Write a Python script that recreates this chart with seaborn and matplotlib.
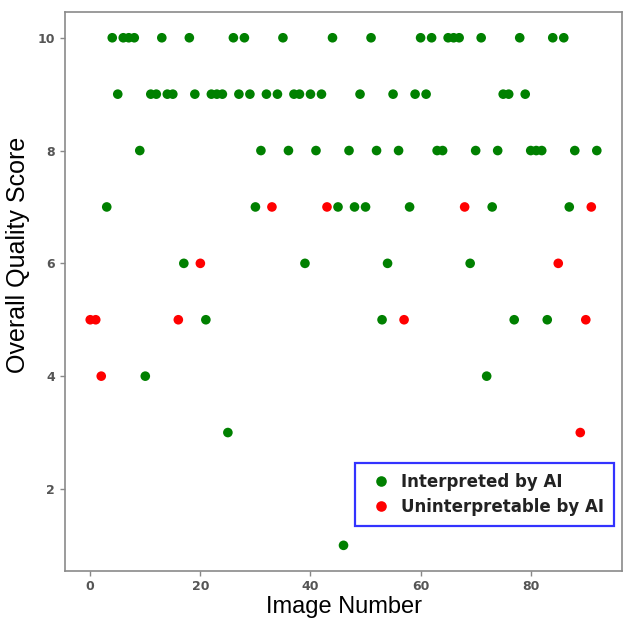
import numpy as np
import pandas as pd
import matplotlib
matplotlib.use('Agg')
import matplotlib.pyplot as plt
import seaborn as sns

# overall quality score for each image, in image order 0..92
scores = [5, 5, 4, 7, 10, 9, 10, 10, 10, 8,
          4, 9, 9, 10, 9, 9, 5, 6, 10, 9,
          6, 5, 9, 9, 9, 3, 10, 9, 10, 9,
          7, 8, 9, 7, 9, 10, 8, 9, 9, 6,
          9, 8, 9, 7, 10, 7, 1, 8, 7, 9,
          7, 10, 8, 5, 6, 9, 8, 5, 7, 9,
          10, 9, 10, 8, 8, 10, 10, 10, 7, 6,
          8, 10, 4, 7, 8, 9, 9, 5, 10, 9,
          8, 8, 8, 5, 10, 6, 10, 7, 8, 3,
          5, 7, 8]
# images the AI could not interpret
unreadable = [0, 1, 2, 16, 20, 33, 43, 57, 68, 85, 89, 90, 91]

labels = ['Interpreted by AI', 'Uninterpretable by AI']
image_no = np.arange(len(scores))
status = [labels[1] if i in unreadable else labels[0] for i in image_no]
df = pd.DataFrame({'image': image_no, 'score': scores, 'status': status})

sns.set_style('white')
plt.rcParams['font.family'] = ['Liberation Sans', 'DejaVu Sans']

fig, ax = plt.subplots(figsize=(6.24, 6.19), dpi=100)
plt.subplots_adjust(left=0.104, right=0.997, bottom=0.078, top=0.98)

sns.scatterplot(data=df, x='image', y='score', hue='status', hue_order=labels,
                palette={labels[0]: 'green', labels[1]: 'red'},
                s=48, linewidth=0, ax=ax)

ax.set_xticks([0, 20, 40, 60, 80])
ax.set_yticks([2, 4, 6, 8, 10])
ax.tick_params(axis='both', labelsize=9, labelcolor='#555555', color='#888888',
               length=3.5, width=1, bottom=True, left=True)
for lab in ax.get_xticklabels() + ax.get_yticklabels():
    lab.set_family('DejaVu Sans')
    lab.set_fontweight('bold')
for sp in ax.spines.values():
    sp.set_color('#8a8a8a')
    sp.set_linewidth(1.2)

ax.set_xlabel('Image Number', fontsize=17, color='black', labelpad=2)
ax.set_ylabel('Overall Quality Score', fontsize=18, color='black')
ax.yaxis.set_label_coords(-0.062, 0.565)

leg = ax.legend(loc='lower right', bbox_to_anchor=(0.986, 0.08),
                prop={'family': 'DejaVu Sans', 'weight': 'bold', 'size': 12},
                frameon=True, fancybox=False, markerscale=1.1,
                handletextpad=0.2, borderpad=0.6, labelspacing=0.45,
                borderaxespad=0)
leg.get_frame().set_edgecolor('blue')
leg.get_frame().set_linewidth(1.6)
for t in leg.get_texts():
    t.set_color('#222222')

fig.savefig('out.png', dpi=100)
